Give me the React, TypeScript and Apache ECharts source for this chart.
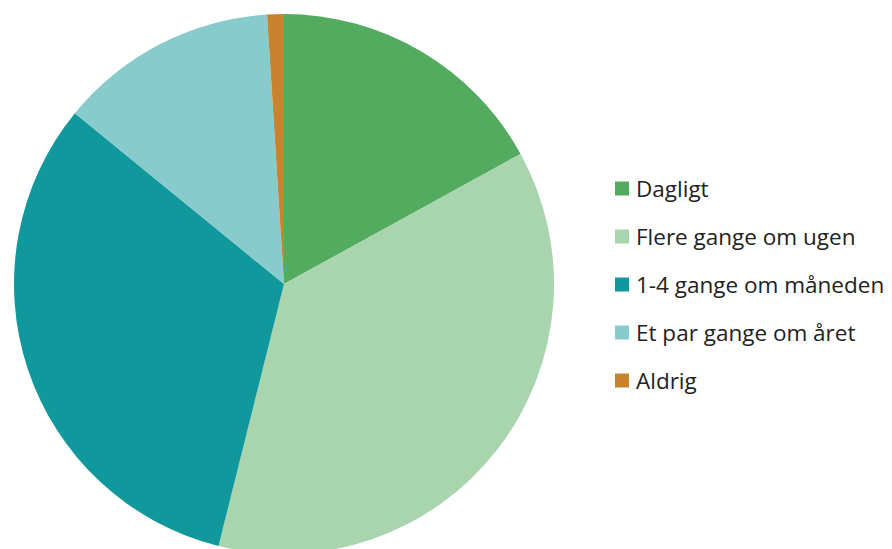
import React, { useEffect, useRef } from "react";
import * as echarts from "echarts";

const categories = ["Dagligt", "Flere gange om ugen", "1-4 gange om måneden", "Et par gange om året", "Aldrig"];
const values = [17.0, 36.9, 32.0, 13.1, 1.0];
const colors = ["#52AB5E", "#A8D5AE", "#10989C", "#88CBCD", "#C8832F"];

export default function App() {
  const ref = useRef<HTMLDivElement>(null);
  useEffect(() => {
    if (!ref.current) return;
    const chart = echarts.init(ref.current, null, { renderer: "svg" });
    chart.setOption({
      animation: false,
      backgroundColor: "#ffffff",
      legend: {
        orient: "vertical",
        left: 610,
        top: 172,
        itemWidth: 14,
        itemHeight: 14,
        itemGap: 25,
        icon: "rect",
        textStyle: { fontFamily: "Open Sans", fontSize: 22.5, color: "#222222", padding: [0, 0, 0, 2] },
        data: categories,
      },
      series: [
        {
          type: "pie",
          center: [284, 284],
          radius: 270,
          startAngle: 90,
          clockwise: true,
          label: { show: false },
          labelLine: { show: false },
          itemStyle: { borderWidth: 0 },
          emphasis: { disabled: true },
          data: categories.map((name, i) => ({ name, value: values[i], itemStyle: { color: colors[i] } })),
        },
      ],
    });
    return () => chart.dispose();
  }, []);
  return <div ref={ref} style={{ position: "absolute", left: 0, top: 0, width: 892, height: 549 }} />;
}
